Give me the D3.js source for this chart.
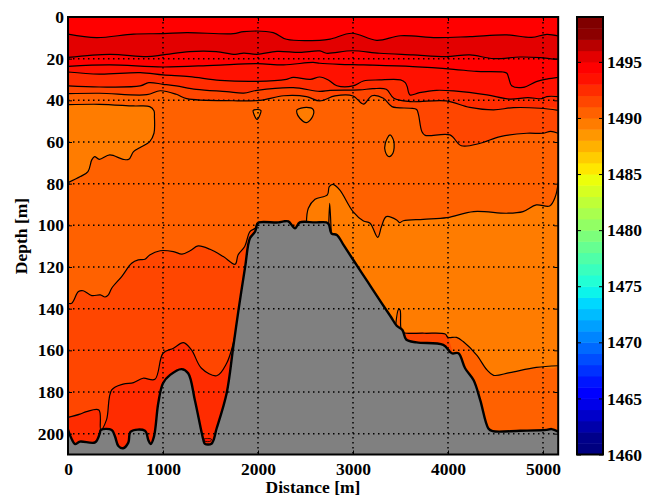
<!DOCTYPE html>
<meta charset="utf-8">
<style>
  body { margin: 0; background: #fff; }
  text { font-family: "Liberation Serif", serif; font-size: 17.5px; font-weight: bold; fill: #000; }
  .domain { display: none; }
</style>
<body>
<script src="https://d3js.org/d3.v7.min.js"></script>
<script>
// sound speed section, values as [distance m, depth m]
var xTicks = [0, 1000, 2000, 3000, 4000, 5000],
    yTicks = [0, 20, 40, 60, 80, 100, 120, 140, 160, 180, 200],
    cTicks = [1460, 1465, 1470, 1475, 1480, 1485, 1490, 1495],
    levels = d3.range(1460, 1499);

var line1 = [[0,8.2],[300,9.9],[690,8.2],[1000,8],[1250,7.5],[1740,8],[1850,7],[2160,7.5],[2300,10.7],[2650,11.2],[2760,10.6],[2990,7.8],[3250,11.2],[3500,9],[3880,9.9],[4230,9.4],[4620,8.6],[4880,9.8],[5040,8.3],[5160,9.1]];
var line2 = [[0,19.4],[440,17.9],[830,19],[1000,18.2],[1280,16.6],[1560,16.6],[1760,17.9],[1850,17.3],[1990,17.9],[2200,16.5],[2440,17],[2650,16.3],[2720,17.4],[2990,16.2],[3280,17.4],[3630,18.2],[3980,19],[4230,18.2],[4480,20],[4760,19.2],[4970,19.5],[5110,20.2],[5160,20.2]];
var line3 = [[0,23.7],[440,23],[1000,24],[1530,23.2],[1990,22.4],[2270,23],[2580,21.8],[2650,22.2],[2860,22.7],[3110,23],[3630,23.8],[4060,25.1],[4300,26.1],[4580,26.4],[4620,27],[4640,29.4],[4670,33],[4790,33.8],[4930,31],[5040,29.8],[5160,29]];
var line4 = [[0,26.4],[330,27.4],[760,26.7],[1000,27.8],[1280,28.6],[1600,30.4],[1990,30.9],[2300,29.9],[2370,29],[2550,29.9],[2650,28.8],[2740,30.2],[2830,33],[3000,33.1],[3110,30.7],[3280,30.2],[3500,30.2],[3550,31.5],[3570,33.4],[3600,37.4],[3700,36.3],[3880,35.2],[4060,35.5],[4410,37.4],[4650,39.4],[4840,38.7],[4990,39.2],[5040,38.2],[5160,38.2]];
var line5 = [[0,33.1],[330,33.6],[760,33.1],[850,31.5],[1000,32.3],[1140,33.1],[1350,34.7],[1670,35.8],[1850,36.5],[1990,35.2],[2370,33.9],[2650,35.7],[2760,35.2],[3070,35],[3210,34.4],[3350,34.7],[3430,39],[3600,40.6],[3980,40.3],[4230,43.4],[4480,44.6],[4690,43.5],[4970,43.8],[5160,44.8]];
var line6 = [[0,36.8],[330,36.6],[830,37.3],[970,35.4],[1140,37.1],[1250,39.2],[1740,40.2],[2020,40],[2270,37.8],[2510,38.2],[2650,40.3],[2810,37.9],[3000,37.9],[3110,41.8],[3200,37.8],[3320,39],[3410,43],[3600,43.8],[3670,44.4],[3690,47],[3725,55],[3760,56.8],[4020,56.6],[4140,61.8],[4340,60.6],[4550,57.4],[4830,55.8],[5000,55.8],[5080,54.9],[5160,55.8]];

var lobeA = [[0,42.1],[330,41.9],[690,42.7],[860,43],[905,45],[910,48],[905,55.8],[860,59.8],[760,62.6],[690,64.6],[640,68.3],[580,68.3],[440,66.2],[330,68.3],[280,67],[250,68.6],[210,74.2],[130,76.6],[0,79.5]];
var lobeB = [[1950,44.8],[2030,44.8],[2020,47],[1990,49.1],[1960,47]];
var lobeC = [[2410,44.6],[2510,43.4],[2580,44.3],[2575,47.8],[2510,50.7],[2440,48.6],[2410,46.2]];
var lobeD = [[3390,56.6],[3430,59.8],[3420,65.4],[3380,67],[3340,64.6],[3340,60.6]];

var midTop = [[2510,98.6],[2530,91.8],[2600,87.5],[2730,85.4],[2750,81.4],[2790,80.3],[2860,83],[3000,93.4],[3110,97.9],[3180,99],[3260,105.8],[3300,100.6],[3350,95.8],[3460,97.4],[3490,98.7],[3530,97.8],[3740,97.1],[3990,96.3],[4270,93.4],[4620,94.2],[4790,93.4],[4930,90.2],[5070,90.7],[5130,86.2],[5160,79.5]];
var midBottom = [[5160,167.4],[4930,168.2],[4650,170.7],[4480,172],[4410,169.4],[4300,162.2],[4160,155.8],[4090,153.8],[4000,153.8],[3970,152.2],[3750,151.8],[3530,151.4],[3505,149.4],[3495,140.6],[3480,140.3],[3450,147.8]];
var midSpike = [[2745,99],[2755,89.5],[2770,103]];
var shelfPatch = [[3530,151.4],[3970,152.2],[4000,153.8],[4040,162],[3950,160],[3560,158]];

var lowLeft = [[0,137.4],[40,137.4],[110,131.8],[160,131.4],[250,133.7],[340,133.4],[390,134.4],[425,133.4],[460,130.2],[565,124.6],[670,118.2],[740,116.6],[810,116.3],[860,114.2],[970,112.2],[1110,112.6],[1200,113.8],[1285,112.2],[1370,109.9],[1495,111.5],[1635,115],[1760,118.7],[1790,114.2],[1860,110.2],[1915,103],[1970,101.4],[1995,99]];
var lowDeep = [[0,192.2],[125,190.6],[195,189.4],[325,188.6],[345,198.2],[405,193.4],[460,179],[580,176.2],[690,175.5],[790,173.4],[915,173.9],[1000,161.4],[1110,159],[1215,156.3],[1300,159.8],[1405,168.6],[1565,172.2],[1670,166.2],[1740,156.6],[1760,152]];
var trough = [[1430,202.6],[1510,202.6],[1500,203.6],[1440,203.6]];

var seafloor = [[0,198],[35,202.2],[75,205],[125,203.8],[285,204.2],[335,199.8],[345,198.2],[460,198.2],[495,201.4],[530,205.9],[580,207],[635,204.3],[660,199],[810,198.6],[845,203],[870,205],[905,201.4],[950,185.4],[1000,175.8],[1075,171.8],[1195,169],[1265,171],[1335,183.8],[1425,203],[1440,204.8],[1510,204.8],[1565,197.4],[1670,180.6],[1740,158.2],[1795,140.6],[1865,119.8],[1915,106.2],[1970,103],[1990,99.5],[2010,98.6],[2215,98.6],[2270,98.1],[2320,98.1],[2390,101.4],[2440,98.6],[2600,98.6],[2720,98.6],[2745,99.5],[2775,104],[2830,104.6],[2900,109.4],[3000,116.4],[3150,126.8],[3300,137.2],[3400,144],[3460,148.2],[3520,150.2],[3560,154.8],[3670,156.2],[3950,157.4],[4040,161.4],[4110,161.4],[4180,168.6],[4270,174.4],[4340,184],[4425,197.5],[4470,198.8],[4760,198.6],[5040,198.2],[5090,197.8],[5160,199]];

var width = 645, height = 495,
    x = d3.scaleLinear().domain([0, 5160]).range([68, 558.2]),
    y = d3.scaleLinear().domain([0, 210]).range([17, 454.5]),
    c = d3.scaleLinear().domain([1460, 1499]).range([454.5, 17]);

// jet, stretched a little so the bands land where the picture has them
var red = d3.scaleLinear().domain([0, .35, .66, .92, 1]).range([0, 0, 1, 1, .5]).clamp(true),
    green = d3.scaleLinear().domain([.125, .375, .64, .9]).range([0, 1, 1, 0]).clamp(true),
    blue = d3.scaleLinear().domain([0, .11, .34, .65]).range([.5, 1, 1, 0]).clamp(true);
function bandColor(v) {
  var t = (v - 1460) * .0273 - .018;
  return d3.rgb(red(t) * 255, green(t) * 255, blue(t) * 255).formatHex();
}

var svg = d3.select("body").append("svg")
  .attr("width", width).attr("height", height)
  .style("display", "block");

svg.append("clipPath").attr("id", "plot").append("rect")
  .attr("x", x.range()[0]).attr("y", y.range()[0])
  .attr("width", x.range()[1] - x.range()[0])
  .attr("height", y.range()[1] - y.range()[0]);

var plot = svg.append("g").attr("clip-path", "url(#plot)");

var path = d3.line().x(function(d){ return x(d[0]); }).y(function(d){ return y(d[1]); })
  .curve(d3.curveCatmullRom.alpha(.5));
var lobe = d3.line().x(function(d){ return x(d[0]); }).y(function(d){ return y(d[1]); })
  .curve(d3.curveCatmullRomClosed.alpha(.5));

function closeDown(pts) {
  var last = pts[pts.length - 1];
  return pts.concat([[last[0], 215], [pts[0][0], 215]]);
}
function fill(pts, level, gen) {
  plot.append("path").attr("d", (gen || path)(pts)).attr("fill", bandColor(level)).attr("stroke", "none");
}
function stroke(pts, gen, w) {
  plot.append("path").attr("d", (gen || path)(pts)).attr("fill", "none")
    .attr("stroke", "#000").attr("stroke-width", w || 1.2).attr("stroke-linejoin", "round");
}

// filled bands, painted top to bottom
plot.append("rect").attr("x", x(0)).attr("y", y(0))
  .attr("width", x(5160) - x(0)).attr("height", y(210) - y(0))
  .attr("fill", bandColor(1494));

[[line1, 1495], [line2, 1494], [line3, 1493], [line4, 1492], [line5, 1491], [line6, 1490]].forEach(function(b){
  fill(closeDown(b[0]), b[1]);
});
fill(lobeA, 1489);
fill(lobeB, 1489, lobe);
fill(lobeC, 1489, lobe);
fill(lobeD, 1489, lobe);
fill(midTop.concat(midBottom, [[3000, 120], [2600, 100]]), 1489);
fill(midSpike, 1490);
fill(shelfPatch, 1491);
fill(closeDown(lowLeft), 1491);
fill(closeDown(lowDeep), 1492);
fill(trough, 1493);

// contour lines
[line1, line2, line3, line4, line5, line6, lobeA, midTop, midBottom, midSpike, lowLeft, lowDeep].forEach(function(l){
  stroke(l);
});
[lobeB, lobeC, lobeD].forEach(function(l){ stroke(l, lobe); });
stroke(trough, lobe, .8);

// sea floor
plot.append("path").attr("d", path(closeDown(seafloor))).attr("fill", "#808080");
stroke(seafloor, path, 2.4);

// dotted grid
var grid = svg.append("g").attr("stroke", "#000").attr("stroke-width", 1.5).attr("stroke-dasharray", "1.5,3.5");
grid.selectAll("line.v").data(xTicks.slice(1)).enter().append("line")
  .attr("x1", function(d){ return x(d); }).attr("x2", function(d){ return x(d); })
  .attr("y1", y(0)).attr("y2", y(210));
grid.selectAll("line.h").data(yTicks.slice(1)).enter().append("line")
  .attr("y1", function(d){ return y(d); }).attr("y2", function(d){ return y(d); })
  .attr("x1", x(0)).attr("x2", x(5160));

// axes
var xAxis = d3.axisBottom(x).tickValues(xTicks).tickSizeInner(-4).tickSizeOuter(0).tickPadding(8).tickFormat(d3.format("d")),
    yAxis = d3.axisLeft(y).tickValues(yTicks).tickSizeInner(-4).tickSizeOuter(0).tickPadding(4).tickFormat(d3.format("d")),
    xTop = d3.axisTop(x).tickValues(xTicks).tickSizeInner(-4).tickSizeOuter(0).tickFormat(""),
    yRight = d3.axisRight(y).tickValues(yTicks).tickSizeInner(-4).tickSizeOuter(0).tickFormat("");

svg.append("g").attr("transform", "translate(0," + y(210) + ")").call(xAxis);
svg.append("g").attr("transform", "translate(" + x(0) + ",0)").call(yAxis);
svg.append("g").attr("transform", "translate(0," + y(0) + ")").call(xTop);
svg.append("g").attr("transform", "translate(" + x(5160) + ",0)").call(yRight);
svg.selectAll("g.tick text").style("font-size", "17.5px").style("font-family", "Liberation Serif");

svg.append("rect").attr("x", x(0)).attr("y", y(0))
  .attr("width", x(5160) - x(0)).attr("height", y(210) - y(0))
  .attr("fill", "none").attr("stroke", "#000").attr("stroke-width", 2);

svg.append("text").attr("x", 313).attr("y", 492.5).attr("text-anchor", "middle").text("Distance [m]");
svg.append("text").attr("transform", "translate(27,236) rotate(-90)").attr("text-anchor", "middle").text("Depth [m]");

// colorbar
var barX = 577, barW = 26;
svg.append("g").selectAll("rect").data(levels).enter().append("rect")
  .attr("x", barX).attr("width", barW)
  .attr("y", function(d){ return c(d + 1); })
  .attr("height", function(d){ return c(d) - c(d + 1) + .5; })
  .attr("fill", function(d){ return bandColor(d); });

var cRight = d3.axisRight(c).tickValues(cTicks).tickSizeInner(-4).tickSizeOuter(0).tickPadding(4).tickFormat(d3.format("d")),
    cLeft = d3.axisLeft(c).tickValues(cTicks).tickSizeInner(-4).tickSizeOuter(0).tickFormat("");
var cg = svg.append("g").attr("transform", "translate(" + (barX + barW) + ",0)").call(cRight);
svg.append("g").attr("transform", "translate(" + barX + ",0)").call(cLeft);
cg.selectAll("text").style("font-size", "17.5px").style("font-family", "Liberation Serif");

svg.append("rect").attr("x", barX).attr("y", c(1499))
  .attr("width", barW).attr("height", c(1460) - c(1499))
  .attr("fill", "none").attr("stroke", "#000").attr("stroke-width", 2);
</script>
</body>
